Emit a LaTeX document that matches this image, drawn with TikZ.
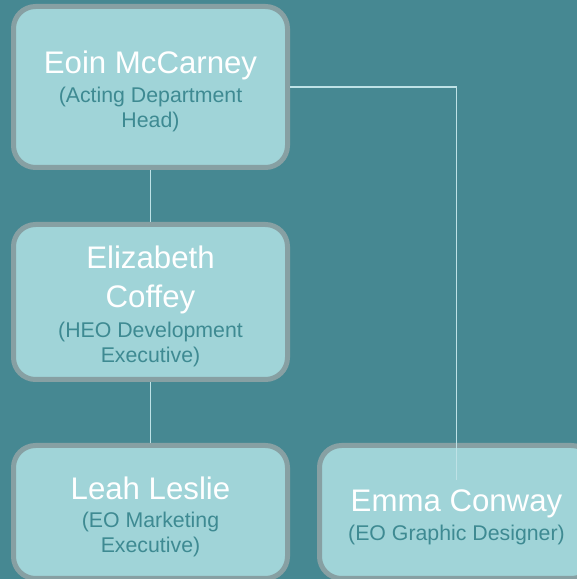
\documentclass[tikz,border=0pt]{standalone}
\usepackage{fontspec}
\setmainfont{Liberation Sans}
\usetikzlibrary{positioning,calc}
\definecolor{bgteal}{HTML}{468892}
\definecolor{boxfill}{HTML}{A0D4D8}
\definecolor{boxline}{HTML}{87A0A3}
\definecolor{roletext}{HTML}{3E8A92}
\definecolor{linkline}{HTML}{BEE2E6}
\newcommand{\pname}[1]{{\fontsize{31.2}{39}\selectfont\color{white}#1}}
\newcommand{\prole}[1]{{\fontsize{21.3}{25}\selectfont\color{roletext}#1}}
\newcommand{\toppad}{\rule{0pt}{32pt}}
\tikzstyle{person} = [rectangle, draw=boxline, line width=5pt, fill=boxfill, rounded corners=22pt, align=center, minimum width=274pt, inner sep=0pt, font=\fontsize{21.3}{25}\selectfont]
\tikzstyle{link} = [draw=linkline, line width=1.5pt]

\begin{document}
\begin{tikzpicture}
    % Hintergrund
    \useasboundingbox (0,0) rectangle (577pt,579pt);
    \fill[bgteal] (0,0) rectangle (577pt,579pt);
    \clip (0,0) rectangle (577pt,579pt);

    % Personen
    \node[person, minimum height=161pt] (eoin) at (150.5pt,492pt)
        {\pname{\toppad Eoin McCarney}\\[4pt]\prole{(Acting Department}\\\prole{Head)}};
    \node[person, minimum height=155pt, below=52pt of eoin] (eliz)
        {\pname{\toppad Elizabeth}\\[14pt]\pname{Coffey}\\[5pt]\prole{(HEO Development}\\\prole{Executive)}};
    \node[person, minimum height=133pt, below=61pt of eliz] (leah)
        {\pname{\toppad Leah Leslie}\\[3pt]\prole{(EO Marketing}\\\prole{Executive)}};
    \node[person, minimum height=133pt, right=27pt of leah] (emma)
        {\pname{\toppad Emma Conway}\\[4pt]\prole{(EO Graphic Designer)}};

    % Verbindungen
    \coordinate (emmaend) at ($(emma.north)+(0,-37pt)$);
    \draw[link] (eoin) -- (eliz);
    \draw[link] (eliz) -- (leah);
    \draw[link] (eoin.east) -| (emmaend);
\end{tikzpicture}
\end{document}
